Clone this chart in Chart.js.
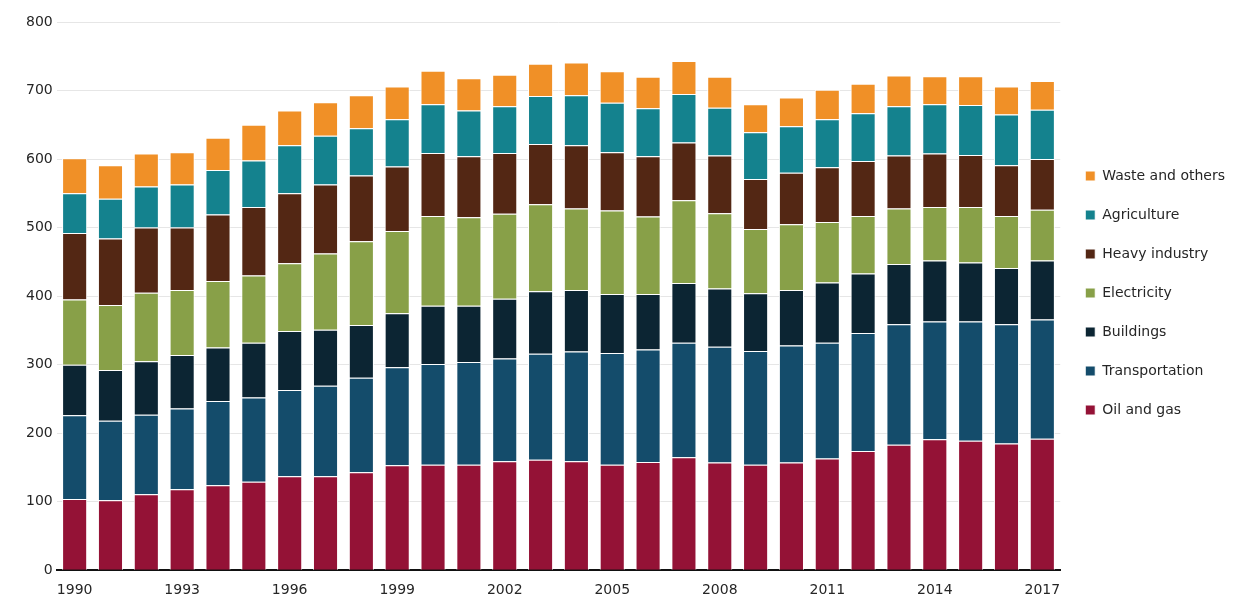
<!DOCTYPE html>
<html>
<head>
<meta charset="utf-8">
<script src="https://cdn.jsdelivr.net/npm/chart.js@4"></script>
<style>
html,body{margin:0;padding:0;background:#fff;}
#wrap{width:1238px;height:598px;}
</style>
</head>
<body>
<div id="wrap"><canvas id="c" width="1238" height="598"></canvas></div>
<script>
const years = [1990,1991,1992,1993,1994,1995,1996,1997,1998,1999,2000,2001,2002,2003,2004,2005,2006,2007,2008,2009,2010,2011,2012,2013,2014,2015,2016,2017];
const oilAndGas      = [104,102,111,118,124,129,137,137,143,153,154,154,159,161,159,154,158,165,157,154,157,163,174,183,191,189,185,192];
const transportation = [122,116,116,118,123,123,126,132,138,143,147,150,150,155,160,163,164,167,169,166,171,169,172,176,172,174,174,174];
const buildings      = [74,74,78,78,78,80,86,82,77,79,85,82,87,91,90,86,81,87,85,84,81,88,87,88,89,86,82,86];
const electricity    = [95,95,100,95,97,98,99,111,122,120,131,129,124,127,119,122,113,121,110,94,96,88,84,81,78,81,76,74];
const heavyIndustry  = [97,97,95,91,97,100,102,101,96,94,92,89,89,88,92,85,88,84,84,73,75,80,80,77,78,76,74,74];
const agriculture    = [58,58,60,63,65,68,70,71,69,69,71,67,68,70,73,72,70,71,70,68,68,70,70,72,72,73,74,72];
const wasteOthers    = [51,49,48,47,47,52,51,49,48,48,49,47,46,47,48,46,46,48,45,41,42,43,43,45,41,42,41,42];
const yTicks = [0,100,200,300,400,500,600,700,800];

const FONT = "'DejaVu Sans', sans-serif";
const mk = (label, data, color) => ({
  label, data, backgroundColor: color, borderColor: '#ffffff', borderWidth: 1,
  barPercentage: 0.7, categoryPercentage: 1.0
});
new Chart(document.getElementById('c'), {
  type: 'bar',
  data: {
    labels: years.map(String),
    datasets: [
      mk('Oil and gas', oilAndGas, '#941236'),
      mk('Transportation', transportation, '#144c6b'),
      mk('Buildings', buildings, '#0c2533'),
      mk('Electricity', electricity, '#88a048'),
      mk('Heavy industry', heavyIndustry, '#532714'),
      mk('Agriculture', agriculture, '#14828e'),
      mk('Waste and others', wasteOthers, '#f09027')
    ]
  },
  options: {
    responsive: false,
    animation: false,
    layout: { padding: { left: 22, right: 3, top: 22, bottom: -13 } },
    plugins: {
      tooltip: { enabled: false },
      legend: {
        position: 'right',
        align: 'start',
        reverse: true,
        title: { display: true, text: '', font: { size: 10, lineHeight: 1 }, padding: { top: 112, bottom: 0 } },
        labels: {
          boxWidth: 10, boxHeight: 10, padding: 25,
          color: '#262626',
          font: { family: FONT, size: 14 }
        }
      }
    },
    scales: {
      x: {
        stacked: true,
        grid: { display: false, drawTicks: false },
        border: { display: true, color: '#111111', width: 2 },
        ticks: {
          autoSkip: false, maxRotation: 0, padding: 12,
          color: '#262626', font: { family: FONT, size: 14 },
          callback: function(v, i) { return i % 3 === 0 ? String(years[i]) : ''; }
        }
      },
      y: {
        stacked: true,
        min: 0, max: 800,
        afterBuildTicks: (axis) => { axis.ticks = yTicks.map(v => ({ value: v })); },
        grid: { color: '#e6e6e6', drawTicks: false },
        border: { display: false },
        ticks: { padding: 4, color: '#262626', font: { family: FONT, size: 14 } }
      }
    }
  }
});
</script>
</body>
</html>
